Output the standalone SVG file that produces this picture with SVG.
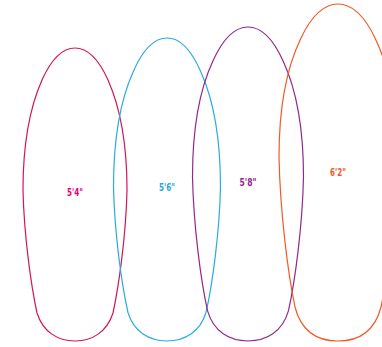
<svg xmlns="http://www.w3.org/2000/svg" width="382" height="347" viewBox="0 0 382 347">
<style>
.board{fill:none;stroke-width:1.2}
.lbl{font-family:"DejaVu Sans","Liberation Sans",sans-serif;font-stretch:condensed;font-weight:bold;font-size:11px;text-anchor:middle}
</style>
<rect width="382" height="347" fill="#fff"/>
<g id="board-54">
<path class="board" stroke="#d4145a" d="M75,48 C88,48 99,60 108,80 C120,107 127,145 127,190 C126,235 119,285 113,313 C107,332 92,341 75,341 C58,341 43,332 37,313 C31,285 24,235 23,190 C23,145 30,107 42,80 C51,60 62,48 75,48 Z"/>
<text class="lbl" fill="#e6007e" x="75" y="196" textLength="16" lengthAdjust="spacingAndGlyphs">5'4"</text>
</g>
<g id="board-56">
<path class="board" stroke="#29abe2" d="M167,38 C180.4,38 191.6,50.7 200.7,71.5 C213.5,99.8 220.5,139.8 220.5,187 C219.4,233.2 212.5,284 206,312.5 C200.2,332 184.7,341 167,341 C149.3,341 133.8,332 128,312.5 C121.5,284 114.6,233.2 113.5,187 C113.5,139.8 120.5,99.8 133.3,71.5 C142.4,50.7 153.6,38 167,38 Z"/>
<text class="lbl" fill="#1fa9e1" x="167" y="191" textLength="16" lengthAdjust="spacingAndGlyphs">5'6"</text>
</g>
<g id="board-58">
<path class="board" stroke="#93278f" d="M248,27 C261.9,27 273.5,39.8 283,60.8 C296.3,89.3 303.5,129.5 303.5,177 C302.4,226.2 295.2,280.3 288.5,310.7 C282.4,332 266.3,341 248,341 C229.7,341 213.6,332 207.5,310.7 C200.8,280.3 193.6,226.2 192.5,177 C192.5,129.5 199.7,89.3 213,60.8 C222.5,39.8 234.1,27 248,27 Z"/>
<text class="lbl" fill="#93278f" x="248" y="186" textLength="17" lengthAdjust="spacingAndGlyphs">5'8"</text>
</g>
<g id="board-62">
<path class="board" stroke="#f15a24" d="M338,4 C352.8,4 365.1,17 375.2,38.4 C389.3,67.5 397,108.5 397,157 C395.8,212.2 388.2,272.9 381,307 C374.6,332 357.5,341 338,341 C318.5,341 301.4,332 295,307 C287.8,272.9 280.2,212.2 279,157 C279,108.5 286.7,67.5 300.8,38.4 C310.9,17 323.2,4 338,4 Z"/>
<text class="lbl" fill="#f15a24" x="338" y="176" textLength="16" lengthAdjust="spacingAndGlyphs">6'2"</text>
</g>
</svg>
